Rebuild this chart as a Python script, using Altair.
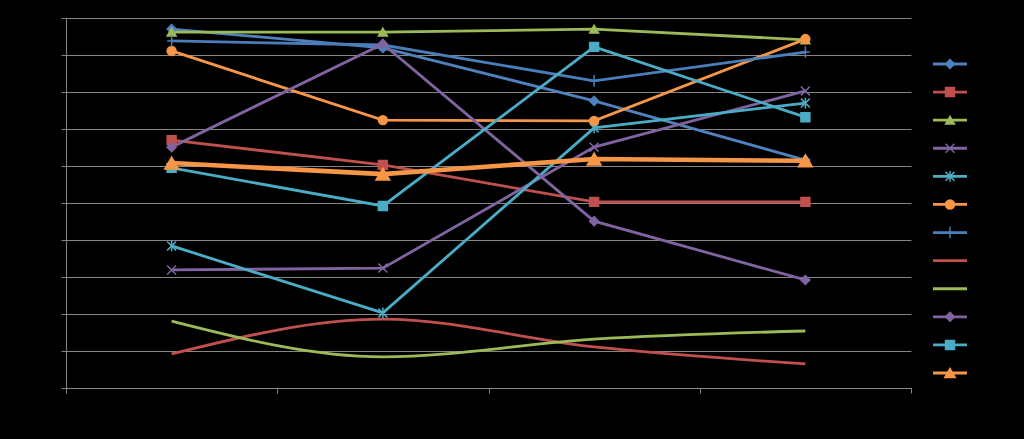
import altair as alt
import pandas as pd

# ---- data ----
categories = [1, 2, 3, 4]
series_names = [f"Series {i}" for i in range(1, 13)]
s1 = [97.0, 91.9, 77.6, 61.6]
s2 = [67.0, 60.3, 50.3, 50.3]
s3 = [96.2, 96.2, 97.0, 94.1]
s4 = [31.9, 32.4, 65.1, 80.3]
s5 = [38.4, 20.3, 70.3, 77.0]
s6 = [91.1, 72.4, 72.2, 94.3]
s7 = [93.8, 92.7, 83.0, 90.8]
s8 = [9.2, 18.6, 11.1, 6.5]
s9 = [18.1, 8.4, 13.2, 15.4]
s10 = [65.1, 93.0, 45.1, 29.2]
s11 = [59.5, 49.2, 92.2, 73.2]
s12 = [60.8, 57.8, 61.9, 61.4]
all_values = [s1, s2, s3, s4, s5, s6, s7, s8, s9, s10, s11, s12]
y_ticks = list(range(0, 101, 10))

# ---- styles ----
colors = ["#4F81BD", "#C0504D", "#9BBB59", "#8064A2", "#4BACC6", "#F79646",
          "#4A7EBB", "#C0504D", "#9BBB59", "#8064A2", "#4BACC6", "#F79646"]
marker_names = ["Series 1", "Series 2", "Series 3", "Series 4", "Series 5", "Series 6",
                "Series 7", "Series 10", "Series 11", "Series 12"]
marker_shapes = ["diamond", "square", "triangle-up",
                 "M-1,-1L1,1M-1,1L1,-1",
                 "M-1,-1L1,1M-1,1L1,-1M0,-1.2L0,1.2",
                 "circle",
                 "M0,-1.3L0,1.3M-1,0L1,0",
                 "diamond", "square", "triangle-up"]
smooth_names = ["Series 8", "Series 9"]
thick_names = ["Series 12"]
normal_line_names = [n for n in series_names if n not in smooth_names + thick_names]
normal_marker_names = [n for n in marker_names if n not in thick_names]

rows = []
for name, vals in zip(series_names, all_values):
    for c, v in zip(categories, vals):
        rows.append({"name": name, "xi": c, "value": v})
df = pd.DataFrame(rows)

leg_rows = []
for name in series_names:
    for lx in (0.0, 1.0):
        leg_rows.append({"name": name, "lx": lx})
leg_df = pd.DataFrame(leg_rows)
leg_pts = pd.DataFrame({"name": series_names, "lx": [0.5] * len(series_names)})

grey = "#868686"
color = alt.Color("name:N", scale=alt.Scale(domain=series_names, range=colors), legend=None)
stroke = alt.Stroke("name:N", scale=alt.Scale(domain=series_names, range=colors), legend=None)
shape = alt.Shape("name:N", scale=alt.Scale(domain=marker_names, range=marker_shapes), legend=None)

X = alt.X("xi:Q", scale=alt.Scale(domain=[0.5, 4.5], nice=False, zero=False),
          axis=alt.Axis(values=[0.5, 1.5, 2.5, 3.5, 4.5], labels=False, grid=False,
                        domainColor=grey, tickColor=grey, tickSize=5, title=None))
Y = alt.Y("value:Q", scale=alt.Scale(domain=[0, 100], nice=False),
          axis=alt.Axis(values=y_ticks, grid=True, gridColor=grey, gridWidth=1,
                        domainColor=grey, tickColor=grey, tickSize=5,
                        labelColor="black", labelFontSize=11, title=None))

base = alt.Chart(df)
enc = dict(x=X, y=Y, color=color, detail="name:N")

lines_normal = base.mark_line(strokeWidth=2.8).encode(**enc).transform_filter(
    alt.FieldOneOfPredicate(field="name", oneOf=normal_line_names))
lines_smooth = base.mark_line(strokeWidth=2.8, interpolate="monotone").encode(**enc).transform_filter(
    alt.FieldOneOfPredicate(field="name", oneOf=smooth_names))
lines_thick = base.mark_line(strokeWidth=4.6).encode(**enc).transform_filter(
    alt.FieldOneOfPredicate(field="name", oneOf=thick_names))
pts_normal = base.mark_point(filled=True, size=80, strokeWidth=1.5, opacity=1).encode(
    x=X, y=Y, color=color, stroke=stroke, shape=shape).transform_filter(
    alt.FieldOneOfPredicate(field="name", oneOf=normal_marker_names))
pts_thick = base.mark_point(filled=True, size=190, strokeWidth=1.5, opacity=1).encode(
    x=X, y=Y, color=color, stroke=stroke, shape=shape).transform_filter(
    alt.FieldOneOfPredicate(field="name", oneOf=thick_names))

main = alt.layer(lines_normal, lines_smooth, pts_normal, lines_thick, pts_thick)

LX = alt.X("lx:Q", scale=alt.Scale(domain=[0, 1], range=[867, 901], nice=False, zero=False), axis=None)
LY = alt.Y("name:N", scale=alt.Scale(type="point", domain=series_names, range=[46, 355], padding=0), axis=None)

leg_lines = alt.Chart(leg_df).mark_line(strokeWidth=2.8).encode(x=LX, y=LY, color=color, detail="name:N")
leg_pts_normal = alt.Chart(leg_pts).mark_point(filled=True, size=80, strokeWidth=1.5, opacity=1).encode(
    x=LX, y=LY, color=color, stroke=stroke, shape=shape).transform_filter(
    alt.FieldOneOfPredicate(field="name", oneOf=normal_marker_names))
leg_pts_thick = alt.Chart(leg_pts).mark_point(filled=True, size=110, strokeWidth=1.5, opacity=1).encode(
    x=LX, y=LY, color=color, stroke=stroke, shape=shape).transform_filter(
    alt.FieldOneOfPredicate(field="name", oneOf=thick_names))
leg_text = alt.Chart(leg_pts).mark_text(align="left", baseline="middle", color="black", fontSize=11, dx=22).encode(
    x=LX, y=LY, text="name:N")

legend = alt.layer(leg_lines, leg_pts_normal, leg_pts_thick, leg_text)

chart = alt.layer(main, legend).resolve_scale(x="independent", y="independent").properties(
    width=845, height=370,
    autosize=alt.AutoSizeParams(type="none"),
    padding={"left": 66, "top": 18, "right": 113, "bottom": 51},
    background="#000000",
).configure_view(stroke=None)

chart.save("out.html", embed_options={"renderer": "svg", "actions": False})
